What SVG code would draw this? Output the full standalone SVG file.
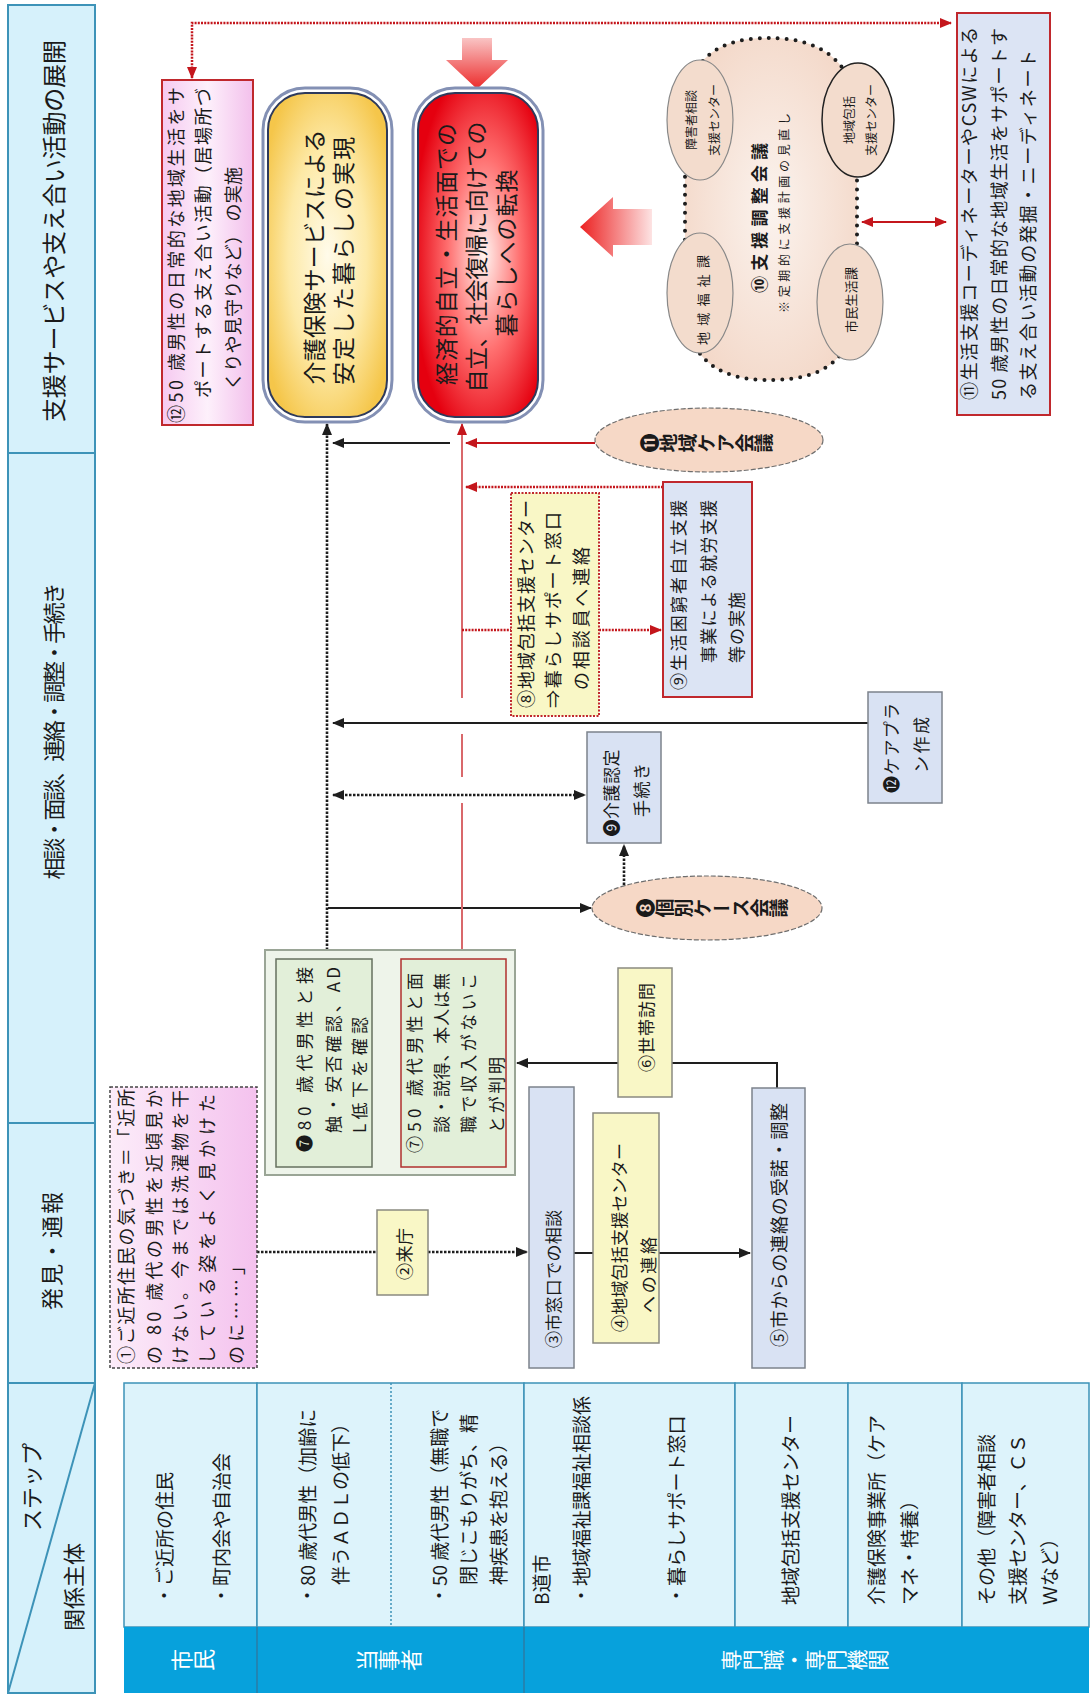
<svg xmlns="http://www.w3.org/2000/svg" width="1091" height="1695" viewBox="0 0 1091 1695">
<style>
text{font-family:"Noto Sans CJK JP","Noto Sans",sans-serif;fill:#1a1a1a;dominant-baseline:central}
.hd{fill:#d6f1fb;stroke:#3d93b8;stroke-width:2}
.cell{fill:#ddf3fb;stroke:#3d93b8;stroke-width:1.5}
.bar{fill:#07a1dc}
.bluebox{fill:#d9e2f3;stroke:#7c838c;stroke-width:1.5}
.yelbox{fill:#f9f7c6;stroke:#8a8a80;stroke-width:1.5}
.peach{fill:#f6d8c6;stroke:#6e6e6e;stroke-width:1.2;stroke-dasharray:5 2}
.blk{stroke:#1e1e1e;stroke-width:2;fill:none}
.dot{stroke:#1e1e1e;stroke-width:2.6;fill:none;stroke-dasharray:2.5 1.5}
.red{stroke:#c4161c;stroke-width:2;fill:none}
.rline{stroke:#d9686b;stroke-width:2;fill:none}
.rdot{stroke:#c4161c;stroke-width:2.5;fill:none;stroke-dasharray:2 1.2}
.vt{writing-mode:vertical-rl}
.wt{fill:#ffffff}
</style>
<defs>
<marker id="ab" viewBox="0 0 12 10" refX="11" refY="5" markerWidth="12" markerHeight="10" markerUnits="userSpaceOnUse" orient="auto-start-reverse"><path d="M0,0 L12,5 L0,10 z" fill="#1e1e1e"/></marker>
<marker id="ar" viewBox="0 0 12 10" refX="11" refY="5" markerWidth="12" markerHeight="10" markerUnits="userSpaceOnUse" orient="auto-start-reverse"><path d="M0,0 L12,5 L0,10 z" fill="#c4161c"/></marker>
<linearGradient id="pink" x1="0" y1="0" x2="1" y2="0"><stop offset="0" stop-color="#f6c9f0"/><stop offset="0.5" stop-color="#fdf0fb"/><stop offset="1" stop-color="#f3c0ec"/></linearGradient>
<linearGradient id="pink2" x1="0" y1="0" x2="1" y2="0"><stop offset="0" stop-color="#fcecf9"/><stop offset="1" stop-color="#f4c2ee"/></linearGradient>
<radialGradient id="yel" cx="0.5" cy="0.5" r="0.6"><stop offset="0" stop-color="#fffbea"/><stop offset="0.55" stop-color="#fde9a6"/><stop offset="1" stop-color="#f5c64a"/></radialGradient>
<radialGradient id="redg" cx="0.55" cy="0.5" r="0.6"><stop offset="0" stop-color="#fff3ef"/><stop offset="0.5" stop-color="#ff7070"/><stop offset="1" stop-color="#e5000f"/></radialGradient>
<radialGradient id="cloudg" cx="0.5" cy="0.5" r="0.6"><stop offset="0" stop-color="#fbf3ee"/><stop offset="1" stop-color="#f3d7c7"/></radialGradient>
<linearGradient id="adown" x1="0" y1="0" x2="0" y2="1"><stop offset="0" stop-color="#f9c4c4"/><stop offset="1" stop-color="#ec2a2a"/></linearGradient>
<linearGradient id="aleft" x1="0" y1="0" x2="1" y2="0"><stop offset="0" stop-color="#ec2020"/><stop offset="1" stop-color="#fde3e3"/></linearGradient>
</defs>

<g id="header">
<rect class="hd" x="8" y="5" width="87" height="448"/>
<rect class="hd" x="8" y="453" width="87" height="670"/>
<rect class="hd" x="8" y="1123" width="87" height="260"/>
<rect class="hd" x="8" y="1383" width="87" height="310"/>
<line x1="95" y1="1383" x2="8" y2="1693" stroke="#3d93b8" stroke-width="2"/>
<text transform="translate(52,231) rotate(-90)" font-size="24" text-anchor="middle" textLength="382">支援サービスや支え合い活動の展開</text>
<text transform="translate(52,731) rotate(-90)" font-size="22" text-anchor="middle" textLength="297">相談・面談、連絡・調整・手続き</text>
<text transform="translate(50,1251) rotate(-90)" font-size="22" text-anchor="middle" textLength="118">発見・通報</text>
<text transform="translate(30,1487) rotate(-90)" font-size="22" text-anchor="middle">ステップ</text>
<text transform="translate(72,1587) rotate(-90)" font-size="22" text-anchor="middle">関係主体</text>
</g>

<g id="table">
<rect class="cell" x="124" y="1383" width="133" height="244"/>
<rect class="cell" x="257" y="1383" width="267" height="244"/>
<rect class="cell" x="524" y="1383" width="211" height="244"/>
<rect class="cell" x="735" y="1383" width="113" height="244"/>
<rect class="cell" x="848" y="1383" width="114" height="244"/>
<rect class="cell" x="962" y="1383" width="127" height="244"/>
<line x1="391" y1="1383" x2="391" y2="1627" stroke="#3d93b8" stroke-width="1.5" stroke-dasharray="2 2"/>
<rect class="bar" x="124" y="1627" width="965" height="66"/>
<line x1="257" y1="1627" x2="257" y2="1693" stroke="#2b7ca6" stroke-width="1.5"/>
<line x1="524" y1="1627" x2="524" y2="1693" stroke="#2b7ca6" stroke-width="1.5"/>
<text class="vt wt" transform="translate(193,1660) rotate(-90)" font-size="22" text-anchor="middle">市民</text>
<text class="vt wt" transform="translate(389,1660) rotate(-90)" font-size="22" text-anchor="middle">当事者</text>
<text class="vt wt" transform="translate(805,1660) rotate(-90)" font-size="21" text-anchor="middle">専門職・専門機関</text>
<text transform="translate(163,1605) rotate(-90)" font-size="19">・ご近所の住民</text>
<text transform="translate(220,1605) rotate(-90)" font-size="19">・町内会や自治会</text>
<text transform="translate(306,1605) rotate(-90)" font-size="19">・80 歳代男性（加齢に</text>
<text transform="translate(339,1585) rotate(-90)" font-size="19">伴うＡＤＬの低下）</text>
<text transform="translate(438,1605) rotate(-90)" font-size="19">・50 歳代男性（無職で</text>
<text transform="translate(467,1585) rotate(-90)" font-size="19">閉じこもりがち、精</text>
<text transform="translate(497,1585) rotate(-90)" font-size="19">神疾患を抱える）</text>
<text transform="translate(540,1605) rotate(-90)" font-size="19">B道市</text>
<text transform="translate(580,1605) rotate(-90)" font-size="19">・地域福祉課福祉相談係</text>
<text transform="translate(675,1605) rotate(-90)" font-size="19">・暮らしサポート窓口</text>
<text transform="translate(789,1605) rotate(-90)" font-size="19">地域包括支援センター</text>
<text transform="translate(875,1605) rotate(-90)" font-size="19">介護保険事業所（ケア</text>
<text transform="translate(908,1605) rotate(-90)" font-size="19">マネ・特養）</text>
<text transform="translate(985,1605) rotate(-90)" font-size="19">その他（障害者相談</text>
<text transform="translate(1016,1605) rotate(-90)" font-size="19">支援センター、ＣＳ</text>
<text transform="translate(1048,1605) rotate(-90)" font-size="19">Ｗなど）</text>
</g>

<g id="connectors">
<path class="rdot" d="M192,78 V23 H951" marker-start="url(#ar)" marker-end="url(#ar)"/>
<line class="red" x1="862" y1="222" x2="946" y2="222" marker-start="url(#ar)" marker-end="url(#ar)"/>
<line class="dot" x1="327" y1="958" x2="327" y2="424" marker-end="url(#ab)"/>
<line class="blk" x1="450" y1="443" x2="333" y2="443" marker-end="url(#ab)"/>
<line class="blk" x1="868" y1="723" x2="333" y2="723" marker-end="url(#ab)"/>
<line class="dot" x1="333" y1="795" x2="585" y2="795" marker-start="url(#ab)" marker-end="url(#ab)"/>
<line class="blk" x1="328" y1="908" x2="591" y2="908" marker-end="url(#ab)"/>
<line class="dot" x1="624" y1="885" x2="624" y2="845" marker-end="url(#ab)"/>
<line class="rline" x1="462" y1="698" x2="462" y2="424" marker-end="url(#ar)"/>
<line class="rline" x1="462" y1="734" x2="462" y2="777"/>
<line class="rline" x1="462" y1="803" x2="462" y2="958"/>
<line class="red" x1="595" y1="443" x2="466" y2="443" marker-end="url(#ar)"/>
<line class="rdot" x1="663" y1="487" x2="466" y2="487" marker-end="url(#ar)"/>
<line class="rdot" x1="462" y1="630" x2="511" y2="630"/>
<line class="rdot" x1="599" y1="630" x2="661" y2="630" marker-end="url(#ar)"/>
<path class="blk" d="M777,1088 V1063 H672"/>
<line class="blk" x1="618" y1="1063" x2="517" y2="1063" marker-end="url(#ab)"/>
<line class="blk" x1="399" y1="1062" x2="374" y2="1062" marker-end="url(#ab)"/>
<line class="dot" x1="257" y1="1252" x2="377" y2="1252"/>
<line class="dot" x1="428" y1="1252" x2="527" y2="1252" marker-end="url(#ab)"/>
<line class="blk" x1="574" y1="1253" x2="593" y2="1253"/>
<line class="blk" x1="659" y1="1253" x2="750" y2="1253" marker-end="url(#ab)"/>
</g>

<g id="arrow-down"><path d="M462,38 H492 V60 H508 L477,89 L446,60 H462 Z" fill="url(#adown)"/></g>
<g id="arrow-left"><path d="M652,209 H613 V197 L580,227 L613,257 V245 H652 Z" fill="url(#aleft)"/></g>

<g id="n12">
<rect x="162" y="80" width="91" height="345" fill="url(#pink)" stroke="#c0282d" stroke-width="2"/>
<text transform="translate(175,423) rotate(-90)" font-size="18" textLength="336">⑫50 歳男性の日常的な地域生活をサ</text>
<text transform="translate(202,398) rotate(-90)" font-size="18" textLength="310">ポートする支え合い活動（居場所づ</text>
<text transform="translate(232,390) rotate(-90)" font-size="18" textLength="223">くりや見守りなど） の実施</text>
</g>

<g id="goal-kaigo">
<rect x="263" y="88" width="129" height="334" rx="42" fill="none" stroke="#8390b4" stroke-width="3"/>
<rect x="268" y="93" width="119" height="324" rx="37" fill="url(#yel)" stroke="#2e3a5c" stroke-width="2"/>
<text transform="translate(313,257) rotate(-90)" font-size="23" text-anchor="middle" textLength="255">介護保険サービスによる</text>
<text transform="translate(342,261) rotate(-90)" font-size="23" text-anchor="middle" textLength="248">安定した暮らしの実現</text>
</g>

<g id="goal-jiritsu">
<rect x="413" y="88" width="130" height="334" rx="42" fill="none" stroke="#8390b4" stroke-width="3"/>
<rect x="418" y="93" width="120" height="324" rx="37" fill="url(#redg)" stroke="#2e3a5c" stroke-width="2"/>
<text transform="translate(445,254) rotate(-90)" font-size="23" text-anchor="middle" textLength="262">経済的自立・生活面での</text>
<text transform="translate(475,257) rotate(-90)" font-size="23" text-anchor="middle" textLength="271">自立、社会復帰に向けての</text>
<text transform="translate(505,253) rotate(-90)" font-size="23" text-anchor="middle" textLength="167">暮らしへの転換</text>
</g>

<g id="n11">
<rect x="957" y="13" width="93" height="402" fill="#dce4f4" stroke="#c0282d" stroke-width="2"/>
<text transform="translate(968,400) rotate(-90)" font-size="18" textLength="373">⑪生活支援コーディネーターやCSWによる</text>
<text transform="translate(998,400) rotate(-90)" font-size="18" textLength="372">50 歳男性の日常的な地域生活をサポートす</text>
<text transform="translate(1027,400) rotate(-90)" font-size="18" textLength="350">る支え合い活動の発掘・ニーディネート</text>
</g>

<g id="n10">
<path d="M685,120 C685,45 735,38 770,38 C805,38 857,50 857,120 L857,300 C857,372 805,380 770,380 C735,380 685,372 685,300 Z" fill="url(#cloudg)" stroke="#1e1e1e" stroke-width="4" stroke-linecap="round" stroke-dasharray="0 9"/>
<ellipse cx="700" cy="120" rx="33" ry="60" fill="#f3dccd" stroke="#888" stroke-width="1.2"/>
<ellipse cx="858" cy="120" rx="36" ry="57" fill="#f3dccd" stroke="#222" stroke-width="1.5"/>
<ellipse cx="700" cy="293" rx="33" ry="60" fill="#f3dccd" stroke="#888" stroke-width="1.2"/>
<ellipse cx="850" cy="302" rx="33" ry="58" fill="#f3dccd" stroke="#888" stroke-width="1.2"/>
<text transform="translate(690,120) rotate(-90)" font-size="12" text-anchor="middle">障害者相談</text>
<text transform="translate(713,120) rotate(-90)" font-size="12" text-anchor="middle">支援センター</text>
<text transform="translate(848,120) rotate(-90)" font-size="12" text-anchor="middle">地域包括</text>
<text transform="translate(870,120) rotate(-90)" font-size="12" text-anchor="middle">支援センター</text>
<text transform="translate(702,300) rotate(-90)" font-size="13" text-anchor="middle" textLength="90">地域福祉課</text>
<text transform="translate(850,300) rotate(-90)" font-size="13" text-anchor="middle" textLength="66">市民生活課</text>
<text transform="translate(758,218) rotate(-90)" font-size="17" font-weight="bold" text-anchor="middle" textLength="150">⑩支援調整会議</text>
<text transform="translate(783,213) rotate(-90)" font-size="12" text-anchor="middle" textLength="200">※定期的に支援計画の見直し</text>
</g>

<g id="n11k">
<ellipse cx="709" cy="440" rx="114" ry="32" class="peach"/>
<text class="vt" transform="translate(707,443) rotate(-90)" font-size="19" font-weight="bold" text-anchor="middle">⓫地域ケア会議</text>
</g>

<g id="n8c">
<rect x="511" y="493" width="88" height="223" fill="#f9f7c6" stroke="#c0282d" stroke-width="2" stroke-dasharray="2 1.5"/>
<text transform="translate(525,708) rotate(-90)" font-size="18" textLength="208">⑧地域包括支援センター</text>
<text transform="translate(552,708) rotate(-90)" font-size="18" textLength="196">⇒暮らしサポート窓口</text>
<text transform="translate(580,690) rotate(-90)" font-size="18" textLength="143">の相談員へ連絡</text>
</g>

<g id="n9s">
<rect x="663" y="482" width="89" height="215" fill="#dce4f4" stroke="#c0282d" stroke-width="2"/>
<text transform="translate(677,690) rotate(-90)" font-size="17" textLength="190">⑨生活困窮者自立支援</text>
<text transform="translate(707,663) rotate(-90)" font-size="17" textLength="163">事業による就労支援</text>
<text transform="translate(735,663) rotate(-90)" font-size="17" textLength="71">等の実施</text>
</g>

<g id="n12c">
<rect class="bluebox" x="868" y="692" width="74" height="111"/>
<text transform="translate(890,748) rotate(-90)" font-size="17" text-anchor="middle" textLength="90">⓬ケアプラ</text>
<text transform="translate(920,745) rotate(-90)" font-size="17" text-anchor="middle" textLength="56">ン作成</text>
</g>

<g id="n9k">
<rect class="bluebox" x="587" y="732" width="74" height="111"/>
<text transform="translate(610,793) rotate(-90)" font-size="17" text-anchor="middle" textLength="87">❾介護認定</text>
<text transform="translate(640,790) rotate(-90)" font-size="17" text-anchor="middle" textLength="54">手続き</text>
</g>

<g id="n8k">
<ellipse cx="707" cy="908" rx="115" ry="32" class="peach"/>
<text class="vt" transform="translate(712,908) rotate(-90)" font-size="19" font-weight="bold" text-anchor="middle">❽個別ケース会議</text>
</g>

<g id="n7">
<rect x="265" y="950" width="250" height="225" fill="#eef4ea" stroke="#9aa596" stroke-width="2"/>
<rect x="276" y="959" width="96" height="208" fill="#e2efd9" stroke="#66705f" stroke-width="1.5"/>
<rect x="401" y="959" width="105" height="208" fill="#e2efd9" stroke="#b0302e" stroke-width="1.5"/>
<text transform="translate(303,1152) rotate(-90)" font-size="17" textLength="185">❼80 歳代男性と接</text>
<text transform="translate(332,1133) rotate(-90)" font-size="17" textLength="166">触・安否確認、AD</text>
<text transform="translate(358,1133) rotate(-90)" font-size="17" textLength="116">L低下を確認</text>
<text transform="translate(413,1153) rotate(-90)" font-size="17" textLength="180">⑦50 歳代男性と面</text>
<text transform="translate(440,1133) rotate(-90)" font-size="17" textLength="160">談・説得、本人は無</text>
<text transform="translate(467,1133) rotate(-90)" font-size="17" textLength="160">職で収入がないこ</text>
<text transform="translate(495,1133) rotate(-90)" font-size="17" textLength="76">とが判明</text>
</g>

<g id="n6">
<rect class="yelbox" x="618" y="968" width="54" height="129"/>
<text transform="translate(645,1072) rotate(-90)" font-size="17" textLength="89">⑥世帯訪問</text>
</g>

<g id="n3">
<rect class="bluebox" x="529" y="1087" width="45" height="281"/>
<text transform="translate(552,1348) rotate(-90)" font-size="17" textLength="138">③市窓口での相談</text>
</g>

<g id="n4">
<rect class="yelbox" x="593" y="1113" width="66" height="230"/>
<text transform="translate(618,1332) rotate(-90)" font-size="17" textLength="189">④地域包括支援センター</text>
<text transform="translate(647,1313) rotate(-90)" font-size="17" textLength="76">への連絡</text>
</g>

<g id="n5">
<rect class="bluebox" x="752" y="1088" width="53" height="280"/>
<text transform="translate(778,1347) rotate(-90)" font-size="18" textLength="244">⑤市からの連絡の受諾・調整</text>
</g>

<g id="n2">
<rect class="yelbox" x="377" y="1210" width="51" height="85"/>
<text transform="translate(403,1280) rotate(-90)" font-size="17" textLength="52">②来庁</text>
</g>

<g id="n1">
<rect x="110" y="1087" width="147" height="281" fill="url(#pink2)" stroke="#444" stroke-width="1.5" stroke-dasharray="3 2"/>
<text transform="translate(125,1364) rotate(-90)" font-size="18" textLength="275">①ご近所住民の気づき＝「近所</text>
<text transform="translate(153,1364) rotate(-90)" font-size="18" textLength="274">の 80 歳代の男性を近頃見か</text>
<text transform="translate(179,1364) rotate(-90)" font-size="18" textLength="274">けない。今までは洗濯物を干</text>
<text transform="translate(206,1364) rotate(-90)" font-size="18" textLength="270">している姿をよく見かけた</text>
<text transform="translate(235,1364) rotate(-90)" font-size="18" textLength="107">のに……」</text>
</g>
</svg>
